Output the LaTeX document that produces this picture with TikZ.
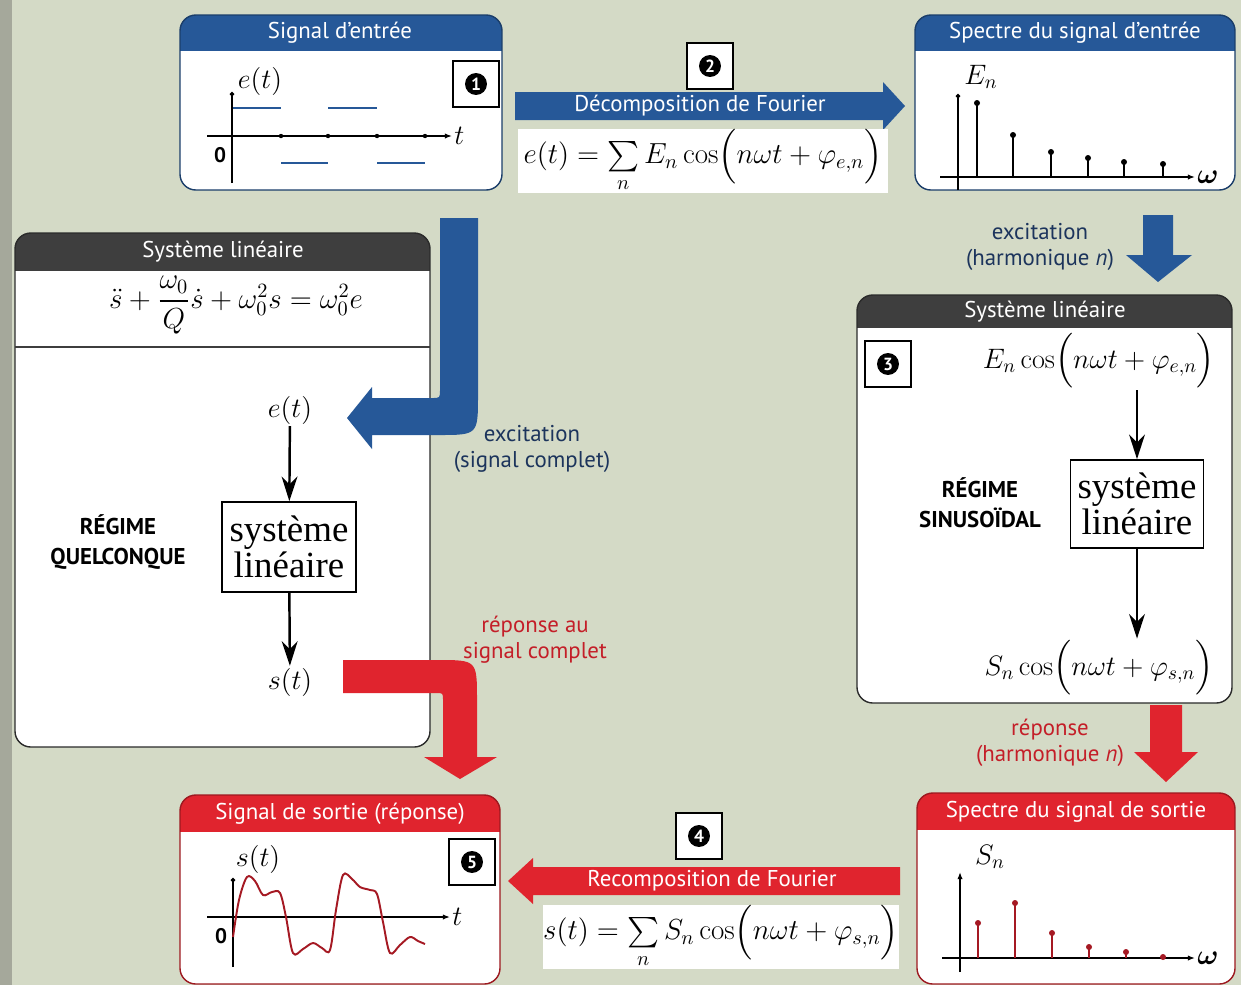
\RequirePackage{fix-cm}
\documentclass[tikz,border=0pt]{standalone}
\usepackage{amsmath}
\usepackage{fontspec}
\setsansfont{PT Sans}
\newfontfamily\serifbox{Liberation Serif}
\usetikzlibrary{arrows.meta,positioning,calc}

\definecolor{bgpage}{RGB}{212,218,198}
\definecolor{bgedge}{RGB}{165,168,155}
\definecolor{bluehd}{RGB}{38,88,152}
\definecolor{grayhd}{RGB}{62,62,62}
\definecolor{redhd}{RGB}{224,36,46}
\definecolor{bluetxt}{RGB}{28,52,92}
\definecolor{redtxt}{RGB}{196,30,40}
\definecolor{redstem}{RGB}{165,25,35}

\tikzset{
        hdtext/.style = {font=\sffamily\fontsize{13}{15}\selectfont, text=white},
        regime/.style = {font=\sffamily\bfseries\fontsize{13}{17}\selectfont, align=center},
        badge/.style = {draw=black, fill=white, line width=0.6pt,
            minimum size=0.92cm, inner sep=0pt},
        numdot/.style = {circle, fill=black, text=white, inner sep=0pt,
            minimum size=12.5pt, font=\sffamily\bfseries\fontsize{10}{10}\selectfont},
        formula/.style = {fill=white, inner sep=0pt, font=\fontsize{16.5}{19}\selectfont},
        mathlbl/.style = {font=\fontsize{16}{18}\selectfont, inner sep=1pt},
        sysbox/.style = {draw, line width=1pt, align=center, inner sep=3pt,
            font=\serifbox\fontsize{21}{19}\selectfont},
        flow/.style = {-{Stealth[length=14pt,width=9pt]}, line width=1.4pt},
        axis/.style = {-{Latex[length=4pt,width=3pt]}, line width=0.8pt},
        dotaxis/.style = {-{Circle[length=2.5pt]}, line width=0.8pt},
        stem/.style = {line width=1.1pt},
        caption/.style = {font=\sffamily\fontsize{13}{15}\selectfont, align=center},
    }

% #1,#2 top left, #3,#4 bottom right, #5 colour, #6 bottom of the header
\newcommand{\panelbox}[6]{%
  \begin{scope}
    \clip[rounded corners=9] (#1,#2) rectangle (#3,#4);
    \fill[white] (#1,#2) rectangle (#3,#4);
    \fill[#5] (#1,#2) rectangle (#3,#6);
  \end{scope}
  \draw[#5!70!black, line width=0.8pt, rounded corners=9] (#1,#2) rectangle (#3,#4);
}

\begin{document}
\begin{tikzpicture}[x=0.02cm, y=-0.02cm]
    \useasboundingbox (0,0) rectangle (1241,985);
    \fill[bgpage] (0,0) rectangle (1241,985);
    \fill[bgedge] (0,0) rectangle (12,985);

    % straight arrows
    \fill[bluehd] (515,92) -- (883,92) -- (883,82) -- (905,106) -- (883,130)
        -- (883,120) -- (515,120) -- cycle;
    \fill[bluehd] (1143,215) -- (1173,215) -- (1173,255) -- (1192,255) -- (1158,282)
        -- (1126,255) -- (1143,255) -- cycle;
    \fill[redhd] (1150,705) -- (1182,705) -- (1182,752) -- (1198,752) -- (1166,782)
        -- (1134,752) -- (1150,752) -- cycle;
    \fill[redhd] (900,867) -- (533,867) -- (533,858) -- (508,881) -- (533,904)
        -- (533,895) -- (900,895) -- cycle;

    % panels
    \panelbox{180}{15}{502}{190}{bluehd}{51}
    \panelbox{915}{15}{1235}{190}{bluehd}{51}
    \panelbox{15}{233}{430}{747}{grayhd}{271}
    \panelbox{857}{295}{1232}{703}{grayhd}{328}
    \panelbox{180}{795}{500}{984}{redhd}{832}
    \panelbox{917}{793}{1235}{984}{redhd}{830}
    \draw[grayhd, line width=1pt] (15,347) -- (430,347);

    % bent arrows
    \fill[bluehd] (478,218) -- (478,395) .. controls (478,435) .. (438,435)
        -- (372,435) -- (372,449) -- (347,418) -- (372,387) -- (372,398)
        -- (432,398) .. controls (440,398) .. (440,390) -- (440,218) -- cycle;
    \fill[redhd] (343,660) -- (437,660) .. controls (477,660) .. (477,700)
        -- (477,757) -- (497,757) -- (460,779) -- (424,757) -- (443,757)
        -- (443,700) .. controls (443,693) .. (436,693) -- (343,693) -- cycle;

    \node[hdtext] (hin) at (340,33) {Signal d’entrée};
    \node[hdtext] (hspin) at (1075,33) {Spectre du signal d’entrée};
    \node[hdtext] (hsysl) at (223,252) {Système linéaire};
    \node[hdtext] (hsysr) at (1045,312) {Système linéaire};
    \node[hdtext] (hout) at (340,814) {Signal de sortie (réponse)};
    \node[hdtext] (hspout) at (1076,812) {Spectre du signal de sortie};

    % input signal
    \draw[axis] (207,136) -- (452,136) node[right, mathlbl] (tin) {$t$};
    \draw[dotaxis] (232,183) -- (232,92);
    \node[mathlbl] (ein) at (260,81) {$e(t)$};
    \node[font=\sffamily\bfseries\fontsize{12}{14}\selectfont] (oin) at (220,155) {0};
    \draw[bluehd, line width=1.2pt] (233,108) -- (281,108) (328,108) -- (377,108)
        (281,163) -- (328,163) (377,163) -- (425,163);
    \foreach \x in {281,328,377,425}
        \fill (\x,136) circle (2.2);

    % input spectrum
    \draw[axis] (940,177) -- (1195,177) node[right, mathlbl] (win) {$\boldsymbol{\omega}$};
    \draw[dotaxis] (958,190) -- (958,94);
    \node[mathlbl] (En) at (981,77) {$E_n$};
    \foreach \x/\h in {977/103,1013/135,1051/152,1088/158,1124/162,1163/164} {
        \draw[stem] (\x,177) -- (\x,\h);
        \fill (\x,\h) circle (3);
    }

    % output spectrum
    \draw[axis] (942,958) -- (1195,958) node[right, mathlbl] (wout) {$\boldsymbol{\omega}$};
    \draw[axis] (960,972) -- (960,872);
    \node[mathlbl] (Sn) at (990,857) {$S_n$};
    \foreach \x/\h in {978/923,1015/903,1052/933,1089/947,1126/952,1163/957} {
        \draw[stem, redstem] (\x,958) -- (\x,\h);
        \fill[redstem] (\x,\h) circle (3);
    }

    % output signal
    \draw[axis] (207,917) -- (450,917) node[right, mathlbl] (tout) {$t$};
    \draw[dotaxis] (233,967) -- (233,878);
    \node[mathlbl] (sout) at (258,859) {$s(t)$};
    \node[font=\sffamily\bfseries\fontsize{12}{14}\selectfont] (oout) at (221,936) {0};
    \draw[redstem, line width=1.1pt] plot[smooth, tension=0.55] coordinates {
        (233,937) (239,900) (247,877) (255,881) (263,895) (272,892) (280,893)
        (286,917) (293,953) (303,949) (313,943) (322,948) (330,950) (336,910)
        (343,875) (352,879) (360,887) (370,890) (377,894) (383,922) (390,953)
        (400,945) (410,937) (418,941) (425,944)};

    % arrow labels and formulas
    \node[hdtext] (decomp) at (700,106) {Décomposition de Fourier};
    \node[hdtext] (recomp) at (712,881) {Recomposition de Fourier};
    \node[formula, minimum width=7.4cm, minimum height=1.16cm] (fin) at (703,161)
        {$e(t) = \sum\limits_n E_n \cos\Bigl(n\omega t + \varphi_{e,n}\Bigr)$};
    \node[formula, minimum width=7.06cm, minimum height=1.2cm] (fout) at (721,937)
        {$s(t) = \sum\limits_n S_n \cos\Bigl(n\omega t + \varphi_{s,n}\Bigr)$};

    \node[caption, text=bluetxt] (excn) at (1040,247) {excitation\\(harmonique \textit{n})};
    \node[caption, text=bluetxt] (excc) at (532,449) {excitation\\(signal complet)};
    \node[caption, text=redtxt] (repc) at (535,640) {réponse au\\signal complet};
    \node[caption, text=redtxt] (repn) at (1050,743) {réponse\\(harmonique \textit{n})};

    % general regime
    \node[font=\fontsize{16.5}{19}\selectfont] (eql) at (236,305)
        {$\ddot s + \dfrac{\omega_0}{Q}\dot s + \omega_0^2 s = \omega_0^2 e$};
    \node[mathlbl] (el) at (290,410) {$e(t)$};
    \node[sysbox, minimum width=2.68cm, minimum height=1.8cm] (sysl) at (289,547)
        {système\\linéaire};
    \node[mathlbl] (sl) at (290,682) {$s(t)$};
    \node[regime] (regl) at (118,542) {RÉGIME\\QUELCONQUE};
    \draw[flow] (el) -- (sysl);
    \draw[flow] (sysl) -- (sl);

    % sinusoidal regime
    \node[mathlbl] (enr) at (1099,361) {$E_n \cos\Bigl(n\omega t + \varphi_{e,n}\Bigr)$};
    \node[sysbox, minimum width=2.66cm, minimum height=1.76cm] (sysr) at (1137,504)
        {système\\linéaire};
    \node[mathlbl] (snr) at (1099,668) {$S_n \cos\Bigl(n\omega t + \varphi_{s,n}\Bigr)$};
    \node[regime] (regr) at (980,503) {RÉGIME\\SINUSOÏDAL};
    \draw[flow] (enr.south -| sysr.north) -- (sysr.north);
    \draw[flow] (sysr.south) -- (sysr.south |- snr.north);

    % step numbers
    \foreach \n/\p in {1/{476,84},2/{710,66},3/{888,364},4/{699,836},5/{472,862}} {
        \node[badge] (b\n) at (\p) {};
        \node[numdot] (d\n) at (b\n) {\n};
    }
\end{tikzpicture}
\end{document}
